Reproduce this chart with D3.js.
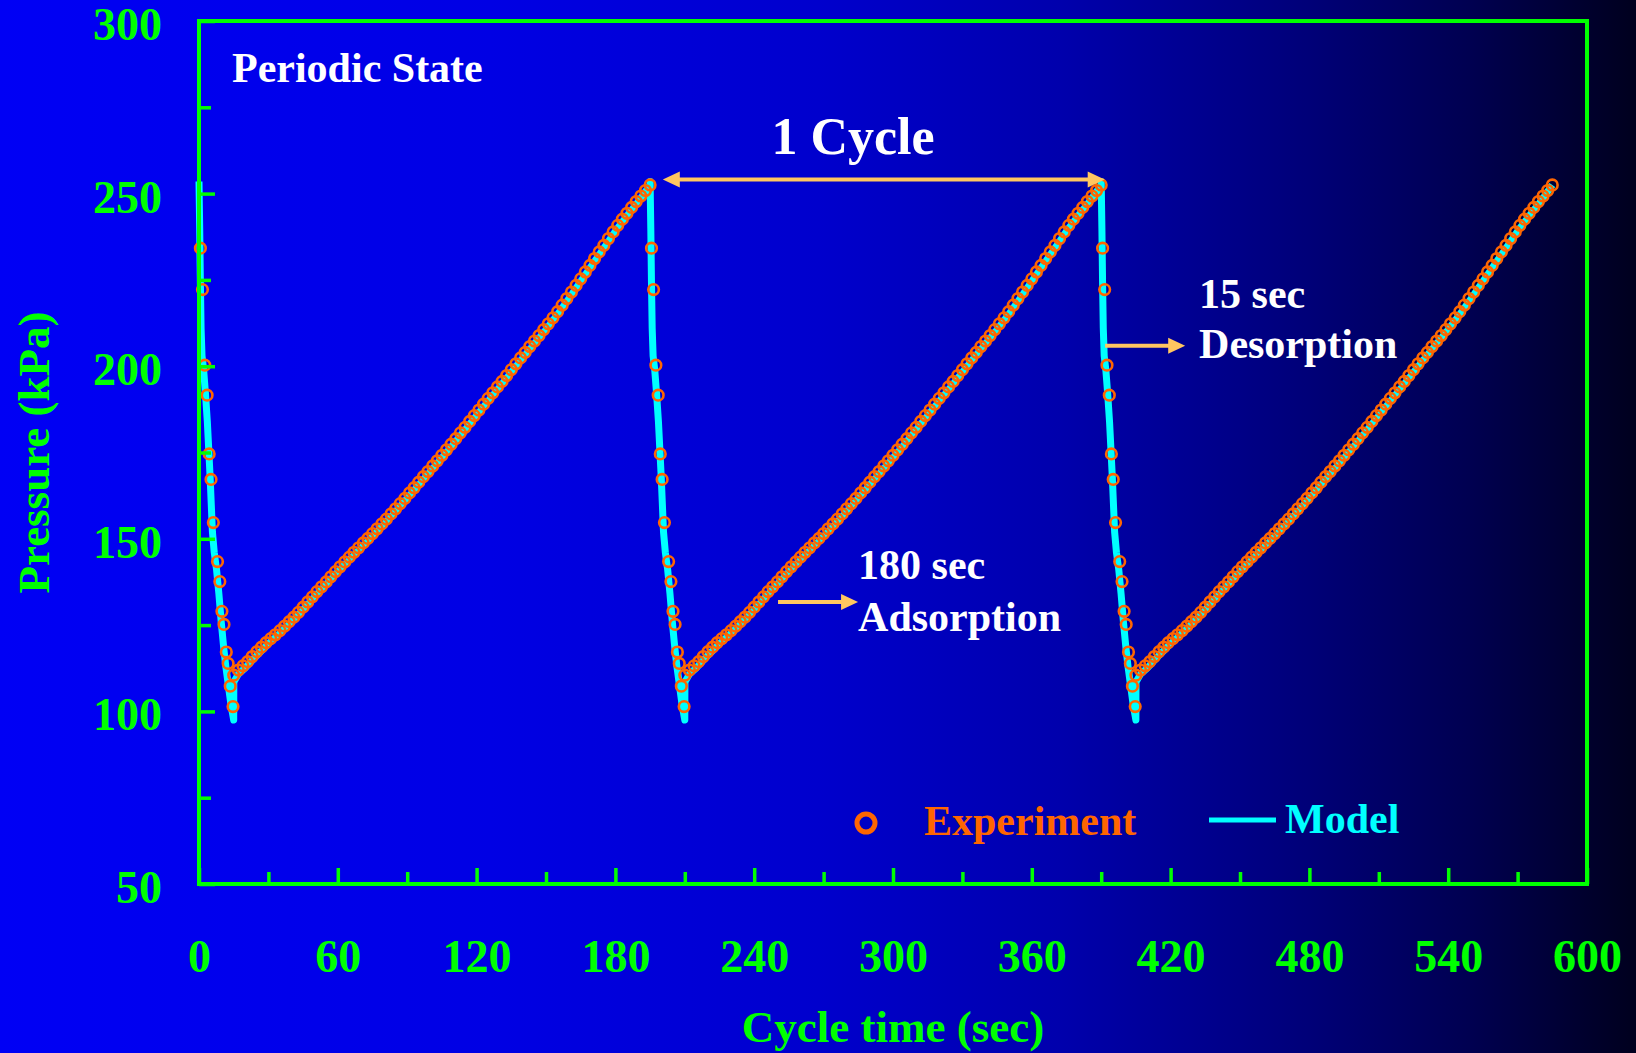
<!DOCTYPE html>
<html>
<head>
<meta charset="utf-8">
<script src="https://cdn.jsdelivr.net/npm/d3@7/dist/d3.min.js"></script>
<style>
  html, body { margin: 0; padding: 0; background: #000060; overflow: hidden; }
  svg { display: block; }
  text { font-family: "Liberation Serif", "Times New Roman", serif; font-weight: bold; }
</style>
</head>
<body>
<div id="chart"></div>
<script>
const width = 1636;
const height = 1053;
const margin = { top: 21, right: 49, bottom: 169, left: 199 };

// axis ticks
const xTicks = [0, 60, 120, 180, 240, 300, 360, 420, 480, 540, 600];
const xMinorTicks = [30, 90, 150, 210, 270, 330, 390, 450, 510, 570];
const yTicks = [50, 100, 150, 200, 250, 300];
const yMinorTicks = [75, 125, 175, 225, 275];

// periodic state: every cycle is 15 s desorption + 180 s adsorption
const cycleStarts = [0, 195, 390];

// experiment, time within cycle (sec), pressure (kPa)
const expDesorption = [
  [0.6, 234.2], [1.5, 222.2], [2.5, 200.3], [3.5, 191.6], [4.4, 174.6],
  [5.2, 167.2], [6.2, 154.7], [8.0, 143.4], [9.0, 137.6], [9.9, 129.0],
  [10.8, 125.2], [11.8, 117.2], [12.6, 113.9], [13.5, 107.3], [14.7, 101.4]
];
const expAdsorption = [
  [15, 110.5], [17, 112.0], [19, 113.2], [21, 114.4], [23, 115.9], [25, 117.3],
  [27, 118.6], [29, 119.9], [31, 121.1], [33, 122.2], [35, 123.4], [37, 124.7],
  [39, 126.0], [41, 127.3], [43, 128.7], [45, 130.2], [47, 131.7], [49, 133.2],
  [51, 134.7], [53, 136.1], [55, 137.5], [57, 139.0], [59, 140.5], [61, 141.9],
  [63, 143.3], [65, 144.7], [67, 146.1], [69, 147.4], [71, 148.8], [73, 150.1],
  [75, 151.5], [77, 152.9], [79, 154.3], [81, 155.7], [83, 157.2], [85, 158.7],
  [87, 160.2], [89, 161.7], [91, 163.3], [93, 164.8], [95, 166.4], [97, 168.0],
  [99, 169.5], [101, 171.1], [103, 172.6], [105, 174.2], [107, 175.8], [109, 177.4],
  [111, 179.0], [113, 180.7], [115, 182.3], [117, 184.0], [119, 185.7], [121, 187.3],
  [123, 189.0], [125, 190.7], [127, 192.3], [129, 194.0], [131, 195.6], [133, 197.3],
  [135, 199.0], [137, 200.7], [139, 202.4], [141, 204.0], [143, 205.7], [145, 207.3],
  [147, 208.9], [149, 210.6], [151, 212.3], [153, 214.0], [155, 215.8], [157, 217.7],
  [159, 219.6], [161, 221.5], [163, 223.4], [165, 225.3], [167, 227.3], [169, 229.2],
  [171, 231.2], [173, 233.1], [175, 235.0], [177, 237.0], [179, 238.9], [181, 240.8],
  [183, 242.6], [185, 244.3], [187, 246.0], [189, 247.7], [191, 249.3], [193, 250.9],
  [195, 252.5]
];

// model, time within cycle (sec), pressure (kPa)
const modelDesorption = [
  [0, 253.5], [0.3, 240], [0.6, 224], [0.9, 211], [1.3, 203], [2.0, 199],
  [2.8, 192], [3.6, 184], [4.2, 176], [4.8, 168], [5.3, 160], [5.8, 152],
  [6.6, 146], [7.6, 141], [8.6, 134], [9.6, 126], [10.6, 119], [11.6, 113],
  [12.8, 107], [13.8, 102], [14.6, 99], [15.0, 97.5]
];
const modelAdsorption = [
  [15.05, 108.5], [17, 110.8], [20, 112.6], [25, 116.2], [30, 119.6], [35, 122.6],
  [40, 125.9], [45, 129.4], [50, 133.2], [55, 136.8], [60, 140.4], [65, 143.9],
  [70, 147.3], [75, 150.7], [80, 154.2], [85, 157.9], [90, 161.7], [95, 165.6],
  [100, 169.5], [105, 173.4], [110, 177.4], [115, 181.5], [120, 185.7], [125, 189.9],
  [130, 194.0], [135, 198.2], [140, 202.4], [145, 206.5], [150, 210.6], [155, 215.0],
  [160, 219.7], [165, 224.5], [170, 229.4], [175, 234.2], [180, 239.1], [185, 243.5],
  [190, 247.7], [195, 252.5]
];

const green = "#00ff00";
const orange = "#ff6600";
const cyan = "#00ffff";
const peach = "#ffc660";

const svg = d3.select("#chart")
  .append("svg")
  .attr("width", width)
  .attr("height", height);

// background gradient
const grad = svg.append("defs").append("linearGradient")
  .attr("id", "bg").attr("x1", 0).attr("x2", 1).attr("y1", 0).attr("y2", 0);
[[0, 245], [0.3, 228], [0.5, 205], [0.65, 172], [0.8, 120], [0.9, 80], [1, 30]]
  .forEach(([o, b]) => grad.append("stop").attr("offset", o).attr("stop-color", `rgb(0,0,${b})`));
svg.append("rect").attr("width", width).attr("height", height).attr("fill", "url(#bg)");

const x = d3.scaleLinear().domain([0, 600]).range([margin.left, width - margin.right]);
const y = d3.scaleLinear().domain([50, 300]).range([height - margin.bottom, margin.top]);

// model line and experiment points, repeated for each cycle
const modelPts = cycleStarts.flatMap(s =>
  modelDesorption.concat(modelAdsorption).map(([t, p]) => [s + t, p]));
const expPts = cycleStarts.flatMap(s =>
  expDesorption.concat(expAdsorption).map(([t, p]) => [s + t, p]));

const line = d3.line().x(d => x(d[0])).y(d => y(d[1]));
svg.append("path")
  .datum(modelPts)
  .attr("d", line)
  .attr("fill", "none")
  .attr("stroke", cyan)
  .attr("stroke-width", 7)
  .attr("stroke-linejoin", "round");

svg.append("g")
  .selectAll("circle")
  .data(expPts)
  .join("circle")
  .attr("cx", d => x(d[0]))
  .attr("cy", d => y(d[1]))
  .attr("r", 5.3)
  .attr("fill", "none")
  .attr("stroke", orange)
  .attr("stroke-width", 2.6);

// axes
function styleAxis(g) {
  g.select(".domain").remove();
  g.selectAll(".tick line").attr("stroke", green).attr("stroke-width", 3.5);
  g.selectAll(".tick text").attr("fill", green).style("font-size", "46px");
}
const y0 = height - margin.bottom;
svg.append("g").attr("transform", `translate(0,${y0})`)
  .call(d3.axisBottom(x).tickValues(xMinorTicks).tickSize(-12).tickFormat(""))
  .call(styleAxis);
svg.append("g").attr("transform", `translate(0,${y0})`)
  .call(d3.axisBottom(x).tickValues(xTicks).tickSize(-16).tickPadding(55))
  .call(styleAxis);
svg.append("g").attr("transform", `translate(${margin.left},0)`)
  .call(d3.axisLeft(y).tickValues(yMinorTicks).tickSize(-12).tickFormat(""))
  .call(styleAxis);
svg.append("g").attr("transform", `translate(${margin.left},0)`)
  .call(d3.axisLeft(y).tickValues(yTicks).tickSize(-16).tickPadding(37))
  .call(styleAxis)
  .call(g => g.selectAll(".tick text").attr("dy", "0.4em"));

// frame
svg.append("rect")
  .attr("x", x(0)).attr("y", y(300))
  .attr("width", x(600) - x(0)).attr("height", y(50) - y(300))
  .attr("fill", "none").attr("stroke", green).attr("stroke-width", 4);

// axis titles
svg.append("text")
  .attr("x", (x(0) + x(600)) / 2).attr("y", 1042)
  .attr("text-anchor", "middle").attr("fill", green)
  .style("font-size", "45px")
  .text("Cycle time (sec)");
svg.append("text")
  .attr("transform", `translate(49,${(y(50) + y(300)) / 2}) rotate(-90)`)
  .attr("text-anchor", "middle").attr("fill", green)
  .style("font-size", "45px")
  .text("Pressure (kPa)");

// annotations
svg.append("text")
  .attr("x", x(0) + 33).attr("y", 82)
  .attr("fill", "white").style("font-size", "42px")
  .text("Periodic State");

function arrowHead(px, py, dir) {
  // dir = 1 points right, -1 points left
  return `M${px},${py} L${px - dir * 17},${py - 8} L${px - dir * 17},${py + 8} Z`;
}

// 1 cycle double arrow
const cyY = y(254.1);
svg.append("line")
  .attr("x1", x(200.5) + 10).attr("x2", x(391.5) - 10)
  .attr("y1", cyY).attr("y2", cyY)
  .attr("stroke", peach).attr("stroke-width", 4);
svg.append("path").attr("d", arrowHead(x(200.5), cyY, -1)).attr("fill", peach);
svg.append("path").attr("d", arrowHead(x(391.5), cyY, 1)).attr("fill", peach);
svg.append("text")
  .attr("x", x(282.7)).attr("y", 154)
  .attr("text-anchor", "middle").attr("fill", "white")
  .style("font-size", "52px")
  .text("1 Cycle");

// adsorption
const adY = y(131.7);
svg.append("line")
  .attr("x1", x(250.3)).attr("x2", x(284.9) - 10)
  .attr("y1", adY).attr("y2", adY)
  .attr("stroke", peach).attr("stroke-width", 4);
svg.append("path").attr("d", arrowHead(x(284.9), adY, 1)).attr("fill", peach);
const adText = svg.append("text").attr("fill", "white").style("font-size", "42px");
adText.append("tspan").attr("x", x(284.9)).attr("y", adY - 23).text("180 sec");
adText.append("tspan").attr("x", x(284.9)).attr("y", adY + 29).text("Adsorption");

// desorption
const deY = y(205.9);
svg.append("line")
  .attr("x1", x(391.7)).attr("x2", x(426.3) - 10)
  .attr("y1", deY).attr("y2", deY)
  .attr("stroke", peach).attr("stroke-width", 4);
svg.append("path").attr("d", arrowHead(x(426.3), deY, 1)).attr("fill", peach);
const deText = svg.append("text").attr("fill", "white").style("font-size", "42px");
deText.append("tspan").attr("x", x(432.3)).attr("y", deY - 38).text("15 sec");
deText.append("tspan").attr("x", x(432.3)).attr("y", deY + 12).text("Desorption");

// legend
const legend = svg.append("g");
legend.append("circle")
  .attr("cx", 866).attr("cy", 823).attr("r", 9)
  .attr("fill", "none").attr("stroke", orange).attr("stroke-width", 5);
legend.append("text")
  .attr("x", 924).attr("y", 835)
  .attr("fill", orange).style("font-size", "42px")
  .text("Experiment");
legend.append("line")
  .attr("x1", 1209).attr("x2", 1276).attr("y1", 820).attr("y2", 820)
  .attr("stroke", cyan).attr("stroke-width", 5);
legend.append("text")
  .attr("x", 1285).attr("y", 833)
  .attr("fill", cyan).style("font-size", "42px")
  .text("Model");
</script>
</body>
</html>
